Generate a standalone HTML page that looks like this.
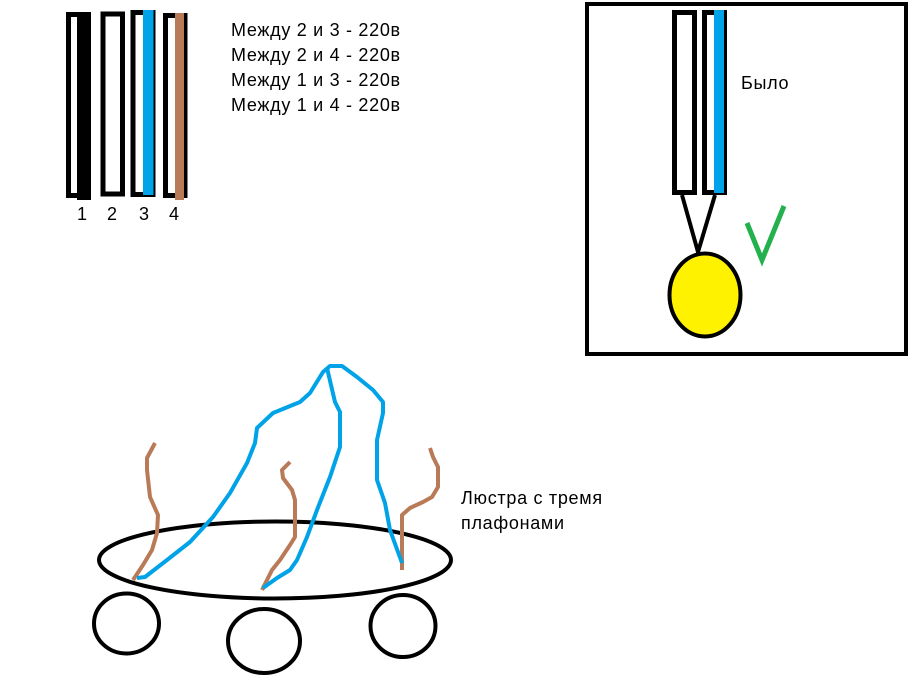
<!DOCTYPE html>
<html><head><meta charset="utf-8"><style>
body{margin:0;background:#fff;width:915px;height:700px;overflow:hidden}
svg{display:block}
text{font-family:"Liberation Sans",sans-serif;font-size:18px;letter-spacing:0.7px;fill:#000}
</style></head><body>
<svg width="915" height="700" viewBox="0 0 915 700">
<g stroke="#000" stroke-width="5" fill="#fff">
<rect x="68.5" y="14.5" width="20" height="181"/>
<rect x="103" y="14" width="19.5" height="180"/>
<rect x="133" y="12.5" width="20" height="182"/>
<rect x="165.5" y="15.5" width="19.5" height="180"/>
</g>
<rect x="77" y="12" width="14" height="188" fill="#000"/>
<rect x="143" y="10" width="10.5" height="185" fill="#00a2e8"/>
<rect x="175" y="13" width="9" height="187" fill="#b97a57"/>
<text x="77" y="220" font-size="17">1</text>
<text x="107" y="220" font-size="17">2</text>
<text x="139" y="220" font-size="17">3</text>
<text x="169" y="220" font-size="17">4</text>
<text x="231" y="36">Между 2 и 3 - 220в</text>
<text x="231" y="61">Между 2 и 4 - 220в</text>
<text x="231" y="86">Между 1 и 3 - 220в</text>
<text x="231" y="111">Между 1 и 4 - 220в</text>

<rect x="587" y="4" width="319" height="350" fill="none" stroke="#000" stroke-width="4"/>
<g stroke="#000" stroke-width="5" fill="#fff">
<rect x="674.5" y="12.5" width="20" height="180"/>
<rect x="704.5" y="12.5" width="20" height="180"/>
</g>
<rect x="714" y="10" width="10" height="183" fill="#00a2e8"/>
<path d="M682 195 L698 252 L715 195" fill="none" stroke="#000" stroke-width="4"/>
<ellipse cx="705" cy="295" rx="35.5" ry="41.5" fill="#fff200" stroke="#000" stroke-width="4"/>
<path d="M747 223 L762 260 L784 206" fill="none" stroke="#22b14c" stroke-width="5"/>
<text x="741" y="89">Было</text>

<ellipse cx="275" cy="560" rx="176" ry="38.5" fill="none" stroke="#000" stroke-width="4"/>
<g fill="none" stroke="#000" stroke-width="4">
<ellipse cx="126.5" cy="623.5" rx="32.5" ry="30"/>
<ellipse cx="264" cy="641" rx="36" ry="32"/>
<ellipse cx="403" cy="626" rx="32.5" ry="31"/>
</g>
<g fill="none" stroke="#b97a57" stroke-width="4" stroke-linejoin="round">
<path d="M155 443 L147 458 L147 470 L150 497 L158 515 L157 533 L152 550 L143 565 L133 580"/>
<path d="M290 462 L282 470 L283 478 L292 490 L295 500 L295 537 L290 545 L280 560 L272 570 L262 590"/>
<path d="M430 448 L433 457 L438 467 L438 487 L432 497 L423 502 L410 508 L402 515 L402 570"/>
</g>
<g fill="none" stroke="#00a2e8" stroke-width="4" stroke-linejoin="round">
<path d="M137 578 L145 577 L167 560 L190 542 L213 517 L230 493 L247 463 L255 443 L257 428 L273 413 L300 402 L310 393 L323 372 L330 366 L342 366 L357 377 L373 390 L383 402 L383 413 L377 440 L377 480 L385 503 L390 530 L402 563"/>
<path d="M327 368 L335 402 L340 412 L340 447 L330 477 L317 510 L307 537 L297 560 L290 570 L277 578 L263 588"/>
</g>
<text x="461" y="504">Люстра с тремя</text>
<text x="461" y="529">плафонами</text>
</svg>
</body></html>
